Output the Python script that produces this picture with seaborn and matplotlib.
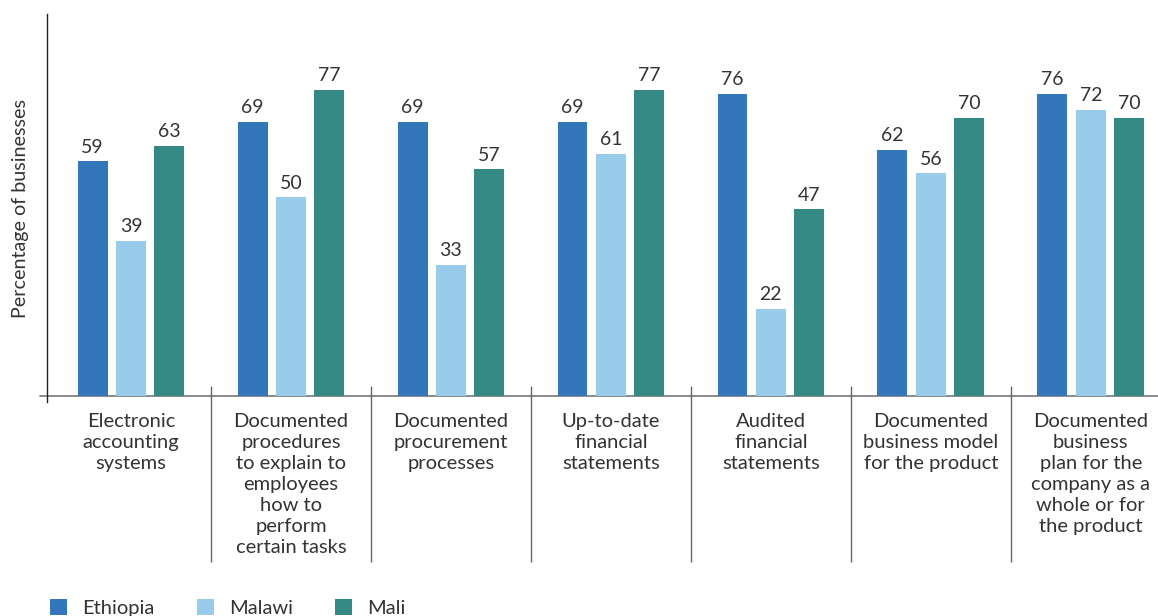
import numpy as np
import pandas as pd
import matplotlib
matplotlib.use("Agg")
import matplotlib.pyplot as plt
from matplotlib.patches import Patch
import seaborn as sns

# chart data
categories = [
    "Electronic\naccounting\nsystems",
    "Documented\nprocedures\nto explain to\nemployees\nhow to\nperform\ncertain tasks",
    "Documented\nprocurement\nprocesses",
    "Up-to-date\nfinancial\nstatements",
    "Audited\nfinancial\nstatements",
    "Documented\nbusiness model\nfor the product",
    "Documented\nbusiness\nplan for the\ncompany as a\nwhole or for\nthe product",
]
countries = ["Ethiopia", "Malawi", "Mali"]
ethiopia = [59, 69, 69, 69, 76, 62, 76]
malawi = [39, 50, 33, 61, 22, 56, 72]
mali = [63, 77, 57, 77, 47, 70, 70]
colors = ["#3377ba", "#99cbea", "#348985"]

df = pd.DataFrame({
    "category": categories * 3,
    "country": np.repeat(countries, len(categories)),
    "value": ethiopia + malawi + mali,
})

sns.set_theme(style="white")
plt.rcParams["font.family"] = ["Lato", "DejaVu Sans"]
text_color = "#333333"

fig = plt.figure(figsize=(11.58, 6.16), dpi=100)
ax = fig.add_axes([47 / 1158, 214 / 616, 1 - 47 / 1158, 388 / 616])

sns.barplot(data=df, x="category", y="value", hue="country", order=categories,
            hue_order=countries, palette=colors, width=0.72, gap=0.22,
            saturation=1, ax=ax, legend=False, edgecolor="none", linewidth=0)

for cont in ax.containers:
    ax.bar_label(cont, fmt="%d", padding=4, fontsize=14, color=text_color)

ax.set_xlim(-0.525, 6.42)
ax.set_ylim(-1.5, 96.1)

for s in ["top", "right", "bottom"]:
    ax.spines[s].set_visible(False)
ax.spines["left"].set_color("#222222")
ax.spines["left"].set_linewidth(1.0)

# baseline and group separators
ax.plot([-0.57, 6.42], [0, 0], color="#777777", lw=1.2, clip_on=False, zorder=0.5)
ax.vlines(np.arange(0.5, 6, 1), -41.8, 2.5, color="#666666", lw=1, clip_on=False)

ax.set_yticks([])
ax.tick_params(axis="x", length=0, pad=8)
ax.set_xticks(range(len(categories)))
ax.set_xticklabels(categories, fontsize=14.5, color=text_color, linespacing=1.29)
ax.set_xlabel("")
ax.set_ylabel("Percentage of businesses", fontsize=14.2, color=text_color, labelpad=13)

handles = [Patch(facecolor=c, edgecolor="none") for c in colors]
fig.legend(handles, countries, loc="center left", bbox_to_anchor=(50 / 1158, 8 / 616),
           ncol=3, frameon=False, fontsize=14.5, handlelength=0.85, handleheight=0.85,
           handletextpad=0.75, columnspacing=2.1, borderpad=0, borderaxespad=0,
           labelcolor=text_color)

fig.savefig("out.png", dpi=100)
